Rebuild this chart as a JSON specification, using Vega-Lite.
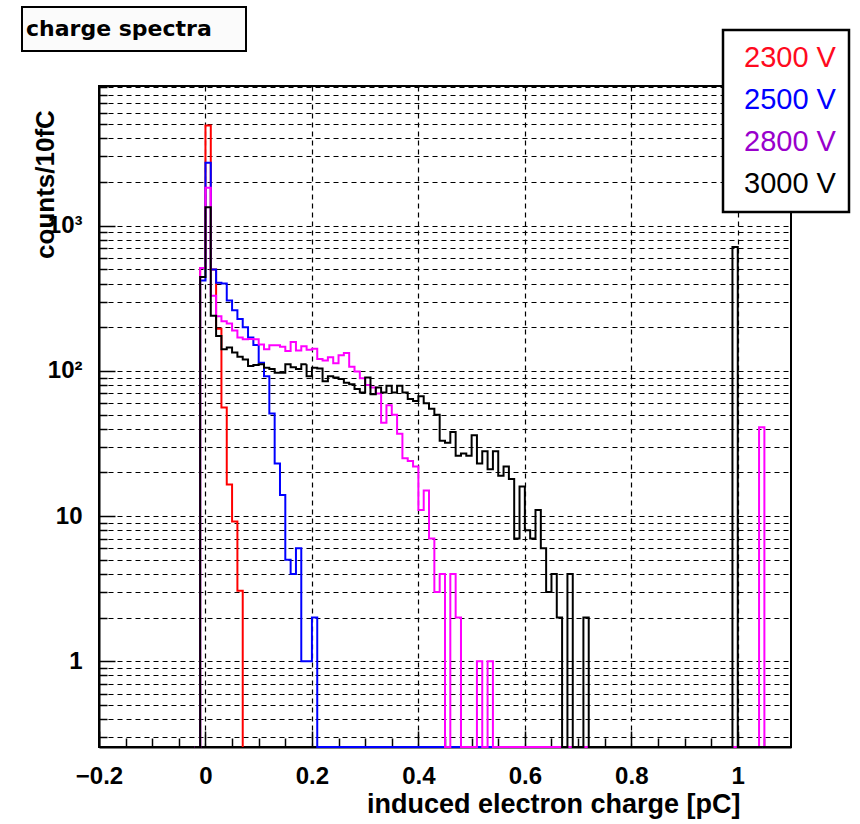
{
  "$schema": "https://vega.github.io/schema/vega-lite/v6.json",
  "width": 692,
  "height": 661,
  "autosize": {"type": "none"},
  "padding": {"left": 99, "top": 86, "right": 69, "bottom": 77},
  "background": "white",
  "config": {
    "view": {"stroke": "black", "strokeWidth": 2},
    "font": "Liberation Sans"
  },
  "data": {
    "values": [
      {"s": "2300 V", "x": -0.02, "v": 0},
      {"s": "2300 V", "x": -0.01, "v": 511},
      {"s": "2300 V", "x": 0, "v": 4900},
      {"s": "2300 V", "x": 0.01, "v": 500},
      {"s": "2300 V", "x": 0.02, "v": 195},
      {"s": "2300 V", "x": 0.03, "v": 56},
      {"s": "2300 V", "x": 0.04, "v": 16.5},
      {"s": "2300 V", "x": 0.05, "v": 9.2},
      {"s": "2300 V", "x": 0.06, "v": 3.06},
      {"s": "2300 V", "x": 0.07, "v": 0},

      {"s": "2500 V", "x": -0.02, "v": 0},
      {"s": "2500 V", "x": -0.01, "v": 420},
      {"s": "2500 V", "x": 0, "v": 2720},
      {"s": "2500 V", "x": 0.01, "v": 500},
      {"s": "2500 V", "x": 0.02, "v": 405},
      {"s": "2500 V", "x": 0.03, "v": 400},
      {"s": "2500 V", "x": 0.04, "v": 306},
      {"s": "2500 V", "x": 0.05, "v": 262},
      {"s": "2500 V", "x": 0.06, "v": 228},
      {"s": "2500 V", "x": 0.07, "v": 200},
      {"s": "2500 V", "x": 0.08, "v": 170},
      {"s": "2500 V", "x": 0.09, "v": 151},
      {"s": "2500 V", "x": 0.1, "v": 114},
      {"s": "2500 V", "x": 0.11, "v": 92},
      {"s": "2500 V", "x": 0.12, "v": 51},
      {"s": "2500 V", "x": 0.13, "v": 23},
      {"s": "2500 V", "x": 0.14, "v": 14},
      {"s": "2500 V", "x": 0.15, "v": 5},
      {"s": "2500 V", "x": 0.16, "v": 4},
      {"s": "2500 V", "x": 0.17, "v": 6},
      {"s": "2500 V", "x": 0.18, "v": 1},
      {"s": "2500 V", "x": 0.19, "v": 1},
      {"s": "2500 V", "x": 0.2, "v": 2},
      {"s": "2500 V", "x": 0.21, "v": 0},
      {"s": "2500 V", "x": 1.1, "v": 0},

      {"s": "2800 V", "x": -0.02, "v": 0},
      {"s": "2800 V", "x": -0.01, "v": 511},
      {"s": "2800 V", "x": 0, "v": 1830},
      {"s": "2800 V", "x": 0.01, "v": 330},
      {"s": "2800 V", "x": 0.02, "v": 238},
      {"s": "2800 V", "x": 0.03, "v": 220},
      {"s": "2800 V", "x": 0.04, "v": 212},
      {"s": "2800 V", "x": 0.05, "v": 190},
      {"s": "2800 V", "x": 0.06, "v": 170},
      {"s": "2800 V", "x": 0.07, "v": 165},
      {"s": "2800 V", "x": 0.08, "v": 166},
      {"s": "2800 V", "x": 0.09, "v": 165},
      {"s": "2800 V", "x": 0.1, "v": 152},
      {"s": "2800 V", "x": 0.11, "v": 141},
      {"s": "2800 V", "x": 0.12, "v": 150},
      {"s": "2800 V", "x": 0.13, "v": 150},
      {"s": "2800 V", "x": 0.14, "v": 147},
      {"s": "2800 V", "x": 0.15, "v": 137},
      {"s": "2800 V", "x": 0.16, "v": 158},
      {"s": "2800 V", "x": 0.17, "v": 138},
      {"s": "2800 V", "x": 0.18, "v": 148},
      {"s": "2800 V", "x": 0.19, "v": 140},
      {"s": "2800 V", "x": 0.2, "v": 142},
      {"s": "2800 V", "x": 0.21, "v": 121},
      {"s": "2800 V", "x": 0.22, "v": 118},
      {"s": "2800 V", "x": 0.23, "v": 124},
      {"s": "2800 V", "x": 0.24, "v": 113},
      {"s": "2800 V", "x": 0.25, "v": 128},
      {"s": "2800 V", "x": 0.26, "v": 133},
      {"s": "2800 V", "x": 0.27, "v": 107},
      {"s": "2800 V", "x": 0.28, "v": 99},
      {"s": "2800 V", "x": 0.29, "v": 89},
      {"s": "2800 V", "x": 0.3, "v": 80},
      {"s": "2800 V", "x": 0.31, "v": 77},
      {"s": "2800 V", "x": 0.32, "v": 70},
      {"s": "2800 V", "x": 0.33, "v": 44},
      {"s": "2800 V", "x": 0.34, "v": 58},
      {"s": "2800 V", "x": 0.35, "v": 50},
      {"s": "2800 V", "x": 0.36, "v": 37},
      {"s": "2800 V", "x": 0.37, "v": 25},
      {"s": "2800 V", "x": 0.38, "v": 24},
      {"s": "2800 V", "x": 0.39, "v": 22},
      {"s": "2800 V", "x": 0.4, "v": 11},
      {"s": "2800 V", "x": 0.41, "v": 15},
      {"s": "2800 V", "x": 0.42, "v": 7},
      {"s": "2800 V", "x": 0.43, "v": 3},
      {"s": "2800 V", "x": 0.44, "v": 4},
      {"s": "2800 V", "x": 0.45, "v": 0},
      {"s": "2800 V", "x": 0.46, "v": 4},
      {"s": "2800 V", "x": 0.47, "v": 2},
      {"s": "2800 V", "x": 0.48, "v": 0},
      {"s": "2800 V", "x": 0.51, "v": 1},
      {"s": "2800 V", "x": 0.52, "v": 0},
      {"s": "2800 V", "x": 0.53, "v": 1},
      {"s": "2800 V", "x": 0.54, "v": 0},
      {"s": "2800 V", "x": 1.04, "v": 41},
      {"s": "2800 V", "x": 1.05, "v": 0},
      {"s": "2800 V", "x": 1.1, "v": 0},

      {"s": "3000 V", "x": -0.02, "v": 0},
      {"s": "3000 V", "x": -0.01, "v": 444},
      {"s": "3000 V", "x": 0, "v": 1340},
      {"s": "3000 V", "x": 0.01, "v": 240},
      {"s": "3000 V", "x": 0.02, "v": 174},
      {"s": "3000 V", "x": 0.03, "v": 141},
      {"s": "3000 V", "x": 0.04, "v": 145},
      {"s": "3000 V", "x": 0.05, "v": 134},
      {"s": "3000 V", "x": 0.06, "v": 125},
      {"s": "3000 V", "x": 0.07, "v": 120},
      {"s": "3000 V", "x": 0.08, "v": 108},
      {"s": "3000 V", "x": 0.09, "v": 110},
      {"s": "3000 V", "x": 0.1, "v": 111},
      {"s": "3000 V", "x": 0.11, "v": 105},
      {"s": "3000 V", "x": 0.12, "v": 103},
      {"s": "3000 V", "x": 0.13, "v": 97},
      {"s": "3000 V", "x": 0.14, "v": 97},
      {"s": "3000 V", "x": 0.15, "v": 111},
      {"s": "3000 V", "x": 0.16, "v": 106},
      {"s": "3000 V", "x": 0.17, "v": 103},
      {"s": "3000 V", "x": 0.18, "v": 111},
      {"s": "3000 V", "x": 0.19, "v": 92},
      {"s": "3000 V", "x": 0.2, "v": 105},
      {"s": "3000 V", "x": 0.21, "v": 104},
      {"s": "3000 V", "x": 0.22, "v": 85},
      {"s": "3000 V", "x": 0.23, "v": 92},
      {"s": "3000 V", "x": 0.24, "v": 90},
      {"s": "3000 V", "x": 0.25, "v": 88},
      {"s": "3000 V", "x": 0.26, "v": 83},
      {"s": "3000 V", "x": 0.27, "v": 81},
      {"s": "3000 V", "x": 0.28, "v": 75},
      {"s": "3000 V", "x": 0.29, "v": 71},
      {"s": "3000 V", "x": 0.3, "v": 90},
      {"s": "3000 V", "x": 0.31, "v": 69},
      {"s": "3000 V", "x": 0.32, "v": 77},
      {"s": "3000 V", "x": 0.33, "v": 71},
      {"s": "3000 V", "x": 0.34, "v": 79},
      {"s": "3000 V", "x": 0.35, "v": 71},
      {"s": "3000 V", "x": 0.36, "v": 79},
      {"s": "3000 V", "x": 0.37, "v": 71},
      {"s": "3000 V", "x": 0.38, "v": 64},
      {"s": "3000 V", "x": 0.39, "v": 62},
      {"s": "3000 V", "x": 0.4, "v": 67},
      {"s": "3000 V", "x": 0.41, "v": 60},
      {"s": "3000 V", "x": 0.42, "v": 55},
      {"s": "3000 V", "x": 0.43, "v": 50},
      {"s": "3000 V", "x": 0.44, "v": 33},
      {"s": "3000 V", "x": 0.45, "v": 32},
      {"s": "3000 V", "x": 0.46, "v": 38},
      {"s": "3000 V", "x": 0.47, "v": 26},
      {"s": "3000 V", "x": 0.48, "v": 27},
      {"s": "3000 V", "x": 0.49, "v": 26},
      {"s": "3000 V", "x": 0.5, "v": 36},
      {"s": "3000 V", "x": 0.51, "v": 23},
      {"s": "3000 V", "x": 0.52, "v": 28},
      {"s": "3000 V", "x": 0.53, "v": 21},
      {"s": "3000 V", "x": 0.54, "v": 28},
      {"s": "3000 V", "x": 0.55, "v": 19},
      {"s": "3000 V", "x": 0.56, "v": 22},
      {"s": "3000 V", "x": 0.57, "v": 18},
      {"s": "3000 V", "x": 0.58, "v": 7},
      {"s": "3000 V", "x": 0.59, "v": 16},
      {"s": "3000 V", "x": 0.6, "v": 8},
      {"s": "3000 V", "x": 0.61, "v": 7},
      {"s": "3000 V", "x": 0.62, "v": 11},
      {"s": "3000 V", "x": 0.63, "v": 6},
      {"s": "3000 V", "x": 0.64, "v": 3},
      {"s": "3000 V", "x": 0.65, "v": 4},
      {"s": "3000 V", "x": 0.66, "v": 2},
      {"s": "3000 V", "x": 0.67, "v": 0},
      {"s": "3000 V", "x": 0.68, "v": 4},
      {"s": "3000 V", "x": 0.69, "v": 0},
      {"s": "3000 V", "x": 0.71, "v": 2},
      {"s": "3000 V", "x": 0.72, "v": 0},
      {"s": "3000 V", "x": 0.99, "v": 714},
      {"s": "3000 V", "x": 1.0, "v": 0},
      {"s": "3000 V", "x": 1.1, "v": 0}
    ]
  },
  "encoding": {
    "x": {
      "field": "x",
      "type": "quantitative",
      "scale": {"domain": [-0.2, 1.1], "nice": false, "zero": false},
      "axis": {
        "values": [-0.2, -0.15, -0.1, -0.05, 0, 0.05, 0.1, 0.15, 0.2, 0.25, 0.3, 0.35, 0.4, 0.45, 0.5, 0.55, 0.6, 0.65, 0.7, 0.75, 0.8, 0.85, 0.9, 0.95, 1, 1.05],
        "labelExpr": "indexof([-0.2, 0, 0.2, 0.4, 0.6, 0.8, 1], datum.value) >= 0 ? format(datum.value, '~g') : ''",
        "labelFont": "Liberation Sans",
        "labelFontWeight": "bold",
        "labelFontSize": 24,
        "labelColor": "black",
        "labelFlush": false,
        "labelOverlap": false,
        "labelPadding": 33,
        "tickSize": {"condition": {"test": "indexof([-0.2, 0, 0.2, 0.4, 0.6, 0.8, 1], datum.value) >= 0", "value": -16}, "value": -9},
        "tickColor": "black",
        "tickWidth": 1.5,
        "grid": true,
        "gridColor": "black",
        "gridWidth": 1.2,
        "gridDash": [5, 4],
        "gridOpacity": {"condition": {"test": "indexof([0, 0.2, 0.4, 0.6, 0.8, 1], datum.value) >= 0", "value": 1}, "value": 0},
        "domainColor": "black",
        "domainWidth": 2,
        "title": "induced electron charge [pC]",
        "titleFont": "Liberation Sans",
        "titleFontWeight": "bold",
        "titleFontSize": 27,
        "titleColor": "black",
        "titleX": 641,
        "titleY": 65,
        "titleAlign": "right",
        "titleBaseline": "alphabetic"
      }
    },
    "y": {
      "field": "v",
      "type": "quantitative",
      "scale": {"type": "log", "domain": [0.257, 9170], "nice": false, "clamp": true},
      "axis": {
        "values": [0.3, 0.4, 0.5, 0.6, 0.7, 0.8, 0.9, 1, 2, 3, 4, 5, 6, 7, 8, 9, 10, 20, 30, 40, 50, 60, 70, 80, 90, 100, 200, 300, 400, 500, 600, 700, 800, 900, 1000, 2000, 3000, 4000, 5000, 6000, 7000, 8000, 9000],
        "labelExpr": "datum.value === 1000 ? '10³' : datum.value === 100 ? '10²' : datum.value === 10 ? '10' : datum.value === 1 ? '1' : ''",
        "labelFont": "Liberation Sans",
        "labelFontWeight": "bold",
        "labelFontSize": 24,
        "labelColor": "black",
        "labelFlush": false,
        "labelOverlap": false,
        "labelPadding": 33,
        "labelBaseline": "middle",
        "tickSize": {"condition": {"test": "datum.value === 1 || datum.value === 10 || datum.value === 100 || datum.value === 1000", "value": -16}, "value": -8},
        "tickColor": "black",
        "tickWidth": 1.5,
        "grid": true,
        "gridColor": "black",
        "gridWidth": 1.2,
        "gridDash": [5, 4],
        "domainColor": "black",
        "domainWidth": 2,
        "title": "counts/10fC",
        "titleFont": "Liberation Sans",
        "titleFontWeight": "bold",
        "titleFontSize": 26,
        "titleColor": "black",
        "titleAngle": -90,
        "titleX": -54,
        "titleY": 98,
        "titleAlign": "center",
        "titleBaseline": "middle"
      }
    },
    "color": {
      "field": "s",
      "type": "nominal",
      "scale": {"domain": ["2300 V", "2500 V", "2800 V", "3000 V"], "range": ["#ff0000", "#0000ff", "#ff00ff", "#000000"]},
      "legend": {
        "orient": "none",
        "legendX": 624,
        "legendY": -56,
        "zindex": 1,
        "title": null,
        "direction": "vertical",
        "symbolSize": 0,
        "symbolStrokeWidth": 0,
        "symbolOpacity": 0,
        "labelOffset": -21,
        "labelFont": "Liberation Sans",
        "labelFontSize": 29,
        "labelLimit": 400,
        "rowPadding": 12,
        "padding": 13,
        "strokeColor": "black",
        "fillColor": "white",
        "encode": {
          "labels": {"update": {"fill": {"signal": "datum.value === '2300 V' ? '#ff0a1e' : datum.value === '2500 V' ? '#0000ff' : datum.value === '2800 V' ? '#9900cc' : '#000000'"}}},
          "entries": {"update": {"width": {"value": 109}}},
          "legend": {"update": {"strokeWidth": {"value": 2.5}}}
        }
      }
    },
    "strokeDash": {
      "datum": "charge spectra",
      "type": "nominal",
      "scale": {"range": [[1, 0]]},
      "legend": {
        "orient": "none",
        "legendX": -77,
        "legendY": -79,
        "zindex": 1,
        "title": ".",
        "titleOrient": "right",
        "titlePadding": 31,
        "titleOpacity": 0,
        "titleFontSize": 2,
        "symbolSize": 1600,
        "symbolType": "square",
        "symbolOpacity": 0,
        "symbolStrokeWidth": 0,
        "labelOffset": -38,
        "padding": 2,
        "labelFont": "DejaVu Sans",
        "labelFontWeight": "bold",
        "labelFontSize": 22,
        "labelColor": "black",
        "labelLimit": 400,
        "strokeColor": "black",
        "fillColor": "#fbfbfb",
        "encode": {
          "legend": {"update": {"strokeWidth": {"value": 2}}}
        }
      }
    }
  },
  "layer": [
    {
      "transform": [{"filter": "datum.s === '2300 V'"}],
      "mark": {"type": "line", "interpolate": "step-after", "strokeWidth": 2, "invalid": "show"}
    },
    {
      "transform": [{"filter": "datum.s === '2500 V'"}],
      "mark": {"type": "line", "interpolate": "step-after", "strokeWidth": 2, "invalid": "show"}
    },
    {
      "transform": [{"filter": "datum.s === '2800 V'"}],
      "mark": {"type": "line", "interpolate": "step-after", "strokeWidth": 2, "invalid": "show"}
    },
    {
      "transform": [{"filter": "datum.s === '3000 V'"}],
      "mark": {"type": "line", "interpolate": "step-after", "strokeWidth": 2, "invalid": "show"}
    }
  ]
}
